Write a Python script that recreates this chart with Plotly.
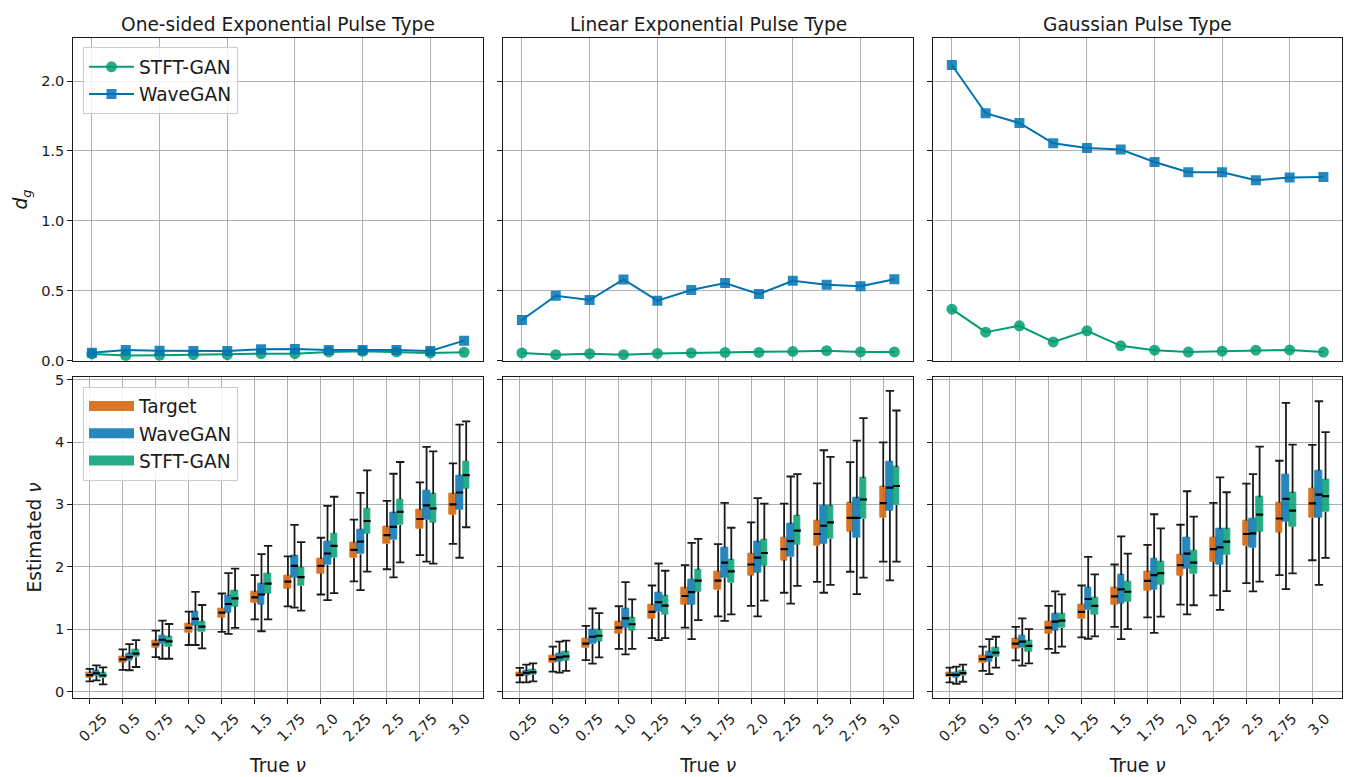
import plotly.graph_objects as go

# ---------------- data ----------------
nu_labels = ["0.25", "0.5", "0.75", "1.0", "1.25", "1.5", "1.75", "2.0", "2.25", "2.5", "2.75", "3.0"]
panel_titles = ["One-sided Exponential Pulse Type", "Linear Exponential Pulse Type", "Gaussian Pulse Type"]
dg_ticks = [0.0, 0.5, 1.0, 1.5, 2.0]
dg_ticktext = ["0.0", "0.5", "1.0", "1.5", "2.0"]
est_ticks = [0, 1, 2, 3, 4, 5]

dg_stft_onesided = [0.048, 0.036, 0.038, 0.043, 0.043, 0.050, 0.050, 0.062, 0.067, 0.062, 0.055, 0.060]
dg_wave_onesided = [0.057, 0.076, 0.071, 0.069, 0.069, 0.081, 0.083, 0.076, 0.076, 0.076, 0.069, 0.143]
dg_stft_linear = [0.055, 0.043, 0.050, 0.043, 0.052, 0.055, 0.059, 0.059, 0.066, 0.071, 0.062, 0.062]
dg_wave_linear = [0.291, 0.464, 0.434, 0.581, 0.429, 0.505, 0.555, 0.476, 0.571, 0.543, 0.533, 0.583]
dg_stft_gauss = [0.368, 0.204, 0.249, 0.134, 0.213, 0.106, 0.075, 0.061, 0.068, 0.075, 0.077, 0.061]
dg_wave_gauss = [2.115, 1.770, 1.700, 1.555, 1.522, 1.510, 1.421, 1.348, 1.348, 1.290, 1.311, 1.313]

# box statistics per group: (lower whisker, q1, median, q3, upper whisker)
onesided_target = [
    (0.163, 0.226, 0.263, 0.300, 0.363), (0.347, 0.468, 0.515, 0.557, 0.678),
    (0.552, 0.705, 0.757, 0.810, 0.978), (0.747, 0.941, 1.020, 1.083, 1.283),
    (0.957, 1.188, 1.267, 1.335, 1.572), (1.157, 1.420, 1.509, 1.598, 1.866),
    (1.367, 1.656, 1.761, 1.861, 2.166), (1.556, 1.893, 2.014, 2.124, 2.466),
    (1.767, 2.140, 2.271, 2.387, 2.755), (1.961, 2.366, 2.508, 2.639, 3.055),
    (2.187, 2.608, 2.766, 2.913, 3.354), (2.366, 2.829, 3.002, 3.165, 3.659)]
onesided_wave = [
    (0.179, 0.252, 0.294, 0.331, 0.421), (0.342, 0.489, 0.552, 0.605, 0.762),
    (0.526, 0.768, 0.831, 0.904, 1.136), (0.747, 1.062, 1.167, 1.283, 1.598),
    (0.925, 1.272, 1.404, 1.535, 1.898), (0.967, 1.398, 1.556, 1.724, 2.203),
    (1.346, 1.830, 2.014, 2.171, 2.671), (1.467, 2.029, 2.213, 2.408, 2.976),
    (1.625, 2.203, 2.403, 2.597, 3.186), (1.830, 2.429, 2.639, 2.860, 3.491),
    (2.082, 2.755, 2.986, 3.228, 3.922), (2.145, 2.913, 3.191, 3.465, 4.280)]
onesided_stft = [
    (0.116, 0.216, 0.258, 0.300, 0.389), (0.394, 0.552, 0.610, 0.668, 0.825),
    (0.526, 0.720, 0.804, 0.873, 1.083), (0.694, 0.957, 1.041, 1.125, 1.388),
    (1.020, 1.367, 1.493, 1.614, 1.972), (1.157, 1.577, 1.730, 1.887, 2.334),
    (1.299, 1.693, 1.835, 1.987, 2.397), (1.577, 2.140, 2.334, 2.534, 3.123),
    (1.924, 2.534, 2.734, 2.939, 3.544), (2.071, 2.671, 2.881, 3.081, 3.680),
    (2.050, 2.713, 2.934, 3.165, 3.849), (2.634, 3.260, 3.470, 3.691, 4.332)]

linear_target = [
    (0.147, 0.237, 0.268, 0.300, 0.379), (0.321, 0.463, 0.521, 0.579, 0.721),
    (0.505, 0.700, 0.768, 0.853, 1.053), (0.684, 0.932, 1.026, 1.116, 1.368),
    (0.858, 1.168, 1.279, 1.389, 1.700), (1.026, 1.400, 1.532, 1.658, 2.026),
    (1.205, 1.626, 1.779, 1.921, 2.363), (1.374, 1.863, 2.037, 2.211, 2.711),
    (1.584, 2.105, 2.284, 2.474, 3.011), (1.758, 2.332, 2.526, 2.742, 3.337),
    (1.921, 2.568, 2.784, 3.021, 3.679), (2.084, 2.784, 3.021, 3.279, 3.995)]
linear_wave = [
    (0.147, 0.263, 0.300, 0.332, 0.432), (0.305, 0.484, 0.547, 0.611, 0.800),
    (0.447, 0.763, 0.879, 0.995, 1.332), (0.595, 1.026, 1.174, 1.326, 1.753),
    (0.826, 1.274, 1.432, 1.589, 2.053), (0.842, 1.400, 1.595, 1.800, 2.384),
    (1.132, 1.826, 2.068, 2.311, 3.026), (1.205, 1.911, 2.147, 2.395, 3.100),
    (1.411, 2.158, 2.411, 2.684, 3.447), (1.584, 2.374, 2.658, 2.984, 3.868),
    (1.563, 2.468, 2.784, 3.100, 4.021), (1.784, 2.905, 3.268, 3.689, 4.821)]
linear_stft = [
    (0.163, 0.268, 0.311, 0.347, 0.453), (0.332, 0.500, 0.563, 0.632, 0.816),
    (0.547, 0.805, 0.895, 0.989, 1.258), (0.684, 0.979, 1.079, 1.184, 1.479),
    (0.858, 1.237, 1.379, 1.532, 1.937), (1.147, 1.605, 1.779, 1.953, 2.447),
    (1.237, 1.742, 1.926, 2.111, 2.626), (1.458, 2.021, 2.221, 2.432, 3.011),
    (1.695, 2.358, 2.579, 2.816, 3.484), (1.711, 2.447, 2.711, 2.979, 3.763),
    (1.826, 2.768, 3.079, 3.421, 4.384), (2.084, 2.989, 3.295, 3.600, 4.505)]

gauss_target = [
    (0.147, 0.232, 0.268, 0.300, 0.384), (0.332, 0.458, 0.521, 0.579, 0.721),
    (0.500, 0.695, 0.768, 0.842, 1.037), (0.684, 0.932, 1.026, 1.126, 1.374),
    (0.868, 1.163, 1.279, 1.395, 1.700), (1.037, 1.395, 1.526, 1.658, 2.037),
    (1.189, 1.616, 1.774, 1.921, 2.353), (1.395, 1.858, 2.026, 2.195, 2.674),
    (1.542, 2.084, 2.284, 2.474, 3.026), (1.737, 2.332, 2.526, 2.737, 3.332),
    (1.868, 2.553, 2.774, 3.026, 3.700), (2.105, 2.784, 3.016, 3.258, 3.953)]
gauss_wave = [
    (0.126, 0.226, 0.268, 0.311, 0.400), (0.279, 0.484, 0.558, 0.637, 0.842),
    (0.416, 0.700, 0.800, 0.900, 1.174), (0.621, 0.984, 1.121, 1.247, 1.605),
    (0.847, 1.311, 1.484, 1.663, 2.158), (0.842, 1.416, 1.637, 1.868, 2.489),
    (0.942, 1.632, 1.868, 2.132, 2.842), (1.237, 1.974, 2.211, 2.474, 3.211),
    (1.311, 2.037, 2.311, 2.605, 3.432), (1.605, 2.305, 2.537, 2.779, 3.484),
    (1.642, 2.721, 3.089, 3.484, 4.626), (1.711, 2.795, 3.158, 3.542, 4.653)]
gauss_stft = [
    (0.158, 0.253, 0.295, 0.332, 0.432), (0.384, 0.553, 0.626, 0.700, 0.879),
    (0.453, 0.647, 0.732, 0.811, 1.000), (0.721, 1.021, 1.137, 1.247, 1.558),
    (0.884, 1.237, 1.374, 1.505, 1.879), (1.000, 1.442, 1.600, 1.763, 2.211),
    (1.200, 1.716, 1.900, 2.079, 2.616), (1.384, 1.884, 2.068, 2.263, 2.805),
    (1.611, 2.195, 2.405, 2.605, 3.195), (1.763, 2.568, 2.837, 3.116, 3.926),
    (1.895, 2.642, 2.900, 3.184, 3.958), (2.142, 2.879, 3.132, 3.395, 4.158)]

# ---------------- style ----------------
FONT = "DejaVu Sans"
BLUE = "#0173B2"
GREEN = "#029E73"
ORANGE = "#D55E00"
INK = "#1a1a1a"
W, H = 1345, 777

def fx(p):
    return p / W

def fy(p):
    return 1 - p / H

col_px = [(73.3, 482.7), (503.3, 913.0), (933.3, 1342.0)]
top_px = (34.0, 361.7)
bot_px = (378.0, 705.0)

dg_data = [(dg_stft_onesided, dg_wave_onesided), (dg_stft_linear, dg_wave_linear), (dg_stft_gauss, dg_wave_gauss)]
box_data = [
    [("Target", ORANGE, onesided_target), ("WaveGAN", BLUE, onesided_wave), ("STFT-GAN", GREEN, onesided_stft)],
    [("Target", ORANGE, linear_target), ("WaveGAN", BLUE, linear_wave), ("STFT-GAN", GREEN, linear_stft)],
    [("Target", ORANGE, gauss_target), ("WaveGAN", BLUE, gauss_wave), ("STFT-GAN", GREEN, gauss_stft)],
]
offsets = [0.0, 0.2, 0.4]
box_w = 0.2

fig = go.Figure()
idx = list(range(len(nu_labels)))

for c in range(3):
    tx, ty = ("x" if c == 0 else f"x{c+1}"), ("y" if c == 0 else f"y{c+1}")
    bx, by = f"x{c+4}", f"y{c+4}"
    stft, wave = dg_data[c]
    fig.add_trace(go.Scatter(
        x=idx, y=stft, mode="lines+markers", name="STFT-GAN", xaxis=tx, yaxis=ty,
        line=dict(color=GREEN, width=2), marker=dict(symbol="circle", size=11, color=GREEN, opacity=0.85),
        showlegend=(c == 0), legend="legend"))
    fig.add_trace(go.Scatter(
        x=idx, y=wave, mode="lines+markers", name="WaveGAN", xaxis=tx, yaxis=ty,
        line=dict(color=BLUE, width=2), marker=dict(symbol="square", size=10, color=BLUE, opacity=0.85),
        showlegend=(c == 0), legend="legend"))

    wx, wy, capx, capy, medx, medy = [], [], [], [], [], []
    for s, (name, color, stats) in enumerate(box_data[c]):
        pos = [i + offsets[s] for i in idx]
        q1 = [st[1] for st in stats]
        q3 = [st[3] for st in stats]
        fig.add_trace(go.Bar(
            x=pos, y=[b - a for a, b in zip(q1, q3)], base=q1, width=box_w, name=name,
            xaxis=bx, yaxis=by, opacity=0.85,
            marker=dict(color=color, line=dict(color=color, width=1)),
            showlegend=False))
        if c == 0:
            # legend patch (wide rectangle like the reference legend)
            fig.add_trace(go.Scatter(
                x=[None], y=[None], mode="lines", name=name, xaxis=bx, yaxis=by,
                line=dict(color=color, width=14), opacity=0.85,
                showlegend=True, legend="legend2", hoverinfo="skip"))
        for p, st in zip(pos, stats):
            lo, a, m, b, hi = st
            wx += [p, p, None, p, p, None]
            wy += [b, hi, None, a, lo, None]
            capx += [p, p]
            capy += [lo, hi]
            medx.append(p)
            medy.append(m)
    fig.add_trace(go.Scatter(x=wx, y=wy, mode="lines", xaxis=bx, yaxis=by,
                             line=dict(color=INK, width=1.8), showlegend=False, hoverinfo="skip"))
    fig.add_trace(go.Scatter(x=capx, y=capy, mode="markers", xaxis=bx, yaxis=by,
                             marker=dict(symbol="line-ew", size=6, line=dict(color=INK, width=1.8)),
                             showlegend=False, hoverinfo="skip"))
    fig.add_trace(go.Scatter(x=medx, y=medy, mode="markers", xaxis=bx, yaxis=by,
                             marker=dict(symbol="line-ew", size=5, line=dict(color="black", width=2.2)),
                             showlegend=False, hoverinfo="skip"))

axis_common = dict(showline=True, linecolor=INK, linewidth=1.3, mirror=True,
                   showgrid=True, gridcolor="#b0b0b0", gridwidth=1, zeroline=False,
                   ticks="outside", ticklen=5, tickwidth=1.2, tickcolor=INK,
                   tickfont=dict(family=FONT, size=14.5, color=INK))
title_font = dict(family=FONT, size=18.6, color=INK)

layout = {}
annotations = []
for c in range(3):
    xd = [fx(col_px[c][0]), fx(col_px[c][1])]
    kt = "" if c == 0 else str(c + 1)
    kb = str(c + 4)
    layout["xaxis" + kt] = dict(axis_common, domain=xd, anchor="y" + kt, range=[-0.55, 11.55],
                                tickmode="linear", tick0=0, dtick=2, showticklabels=False, ticks="")
    layout["yaxis" + kt] = dict(axis_common, domain=[fy(top_px[1]), fy(top_px[0])], anchor="x" + kt,
                                range=[0, 2.305], tickmode="array", tickvals=dg_ticks, ticktext=dg_ticktext,
                                showticklabels=(c == 0))
    layout["xaxis" + kb] = dict(axis_common, domain=xd, anchor="y" + kb, range=[-0.5, 11.9],
                                tickmode="array", tickvals=idx, ticktext=nu_labels, tickangle=-45,
                                ticklabelshift=13,
                                title=dict(text="True <i>ν</i>", font=title_font, standoff=15))
    layout["yaxis" + kb] = dict(axis_common, domain=[fy(bot_px[1]), fy(bot_px[0])], anchor="x" + kb,
                                range=[-0.106, 5.047], tickmode="array", tickvals=est_ticks,
                                ticktext=[str(t) for t in est_ticks], showticklabels=(c == 0))
    annotations.append(dict(text=panel_titles[c], x=(xd[0] + xd[1]) / 2, y=fy(19.5), xref="paper", yref="paper",
                            xanchor="center", yanchor="middle", showarrow=False, font=title_font))

layout["yaxis"]["title"] = dict(text="<i>d</i><sub><i>g</i></sub>", font=title_font, standoff=8)
layout["yaxis4"]["title"] = dict(text="Estimated <i>ν</i>", font=title_font, standoff=8)

legend_common = dict(xanchor="left", yanchor="top", bgcolor="rgba(255,255,255,0.85)",
                     bordercolor="#cccccc", borderwidth=1, font=title_font, itemwidth=45)

fig.update_layout(
    width=W, height=H, margin=dict(l=0, r=0, t=0, b=0),
    paper_bgcolor="white", plot_bgcolor="white",
    font=dict(family=FONT, color=INK),
    barmode="overlay", bargap=0,
    legend=dict(legend_common, x=fx(83), y=fy(43)),
    legend2=dict(legend_common, x=fx(83), y=fy(388)),
    annotations=annotations,
    **layout)

fig.write_html("out.html")
